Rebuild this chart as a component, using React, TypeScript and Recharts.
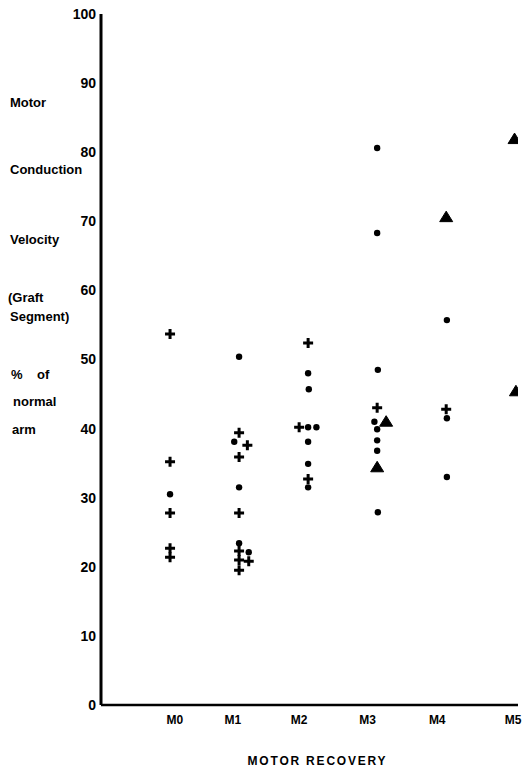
import React from 'react';
import { ScatterChart, Scatter, XAxis, YAxis, Label } from 'recharts';

// x = recovery grade position (1 = M0 ... 6 = M5), small offsets = side-by-side points
const crosses = [
  { x: 1, y: 53.7 }, { x: 1, y: 35.2 }, { x: 1, y: 27.8 }, { x: 1, y: 22.7 }, { x: 1, y: 21.4 },
  { x: 2, y: 39.4 }, { x: 2.12, y: 37.6 }, { x: 2, y: 35.9 }, { x: 2, y: 27.8 },
  { x: 2, y: 22.3 }, { x: 2, y: 21.0 }, { x: 2.14, y: 20.8 }, { x: 2, y: 19.5 },
  { x: 3, y: 52.4 }, { x: 2.87, y: 40.2 }, { x: 3, y: 32.7 },
  { x: 4, y: 43.0 },
  { x: 5, y: 42.8 },
];

const dots = [
  { x: 1, y: 30.5 },
  { x: 2, y: 50.4 }, { x: 1.93, y: 38.1 }, { x: 2, y: 31.5 }, { x: 2, y: 23.4 }, { x: 2.14, y: 22.1 },
  { x: 3, y: 48.0 }, { x: 3.01, y: 45.7 }, { x: 3, y: 40.2 }, { x: 3.12, y: 40.2 },
  { x: 3, y: 38.1 }, { x: 3, y: 34.9 }, { x: 3, y: 31.5 },
  { x: 4, y: 80.6 }, { x: 4, y: 68.3 }, { x: 4.01, y: 48.5 }, { x: 3.96, y: 41.0 },
  { x: 4, y: 39.9 }, { x: 4, y: 38.3 }, { x: 4, y: 36.8 }, { x: 4.01, y: 27.9 },
  { x: 5.01, y: 55.7 }, { x: 5.01, y: 41.5 }, { x: 5.01, y: 33.0 },
];

const triangles = [
  { x: 4.13, y: 41.0 }, { x: 4, y: 34.4 },
  { x: 5, y: 70.6 },
  { x: 5.99, y: 81.9 }, { x: 6.01, y: 45.4 },
];

const gradeTicks = [1.07, 1.91, 2.87, 3.86, 4.87, 5.97];
const gradeLabels = ['M0', 'M1', 'M2', 'M3', 'M4', 'M5'];
const yTicks = [0, 10, 20, 30, 40, 50, 60, 70, 80, 90, 100];

const sideLabels = [
  { text: 'Motor', top: 95, left: 10 },
  { text: 'Conduction', top: 162, left: 10 },
  { text: 'Velocity', top: 232, left: 10 },
  { text: '(Graft', top: 290, left: 8 },
  { text: 'Segment)', top: 309, left: 10 },
  { text: '%\u00a0\u00a0\u00a0 of', top: 367, left: 11 },
  { text: 'normal', top: 394, left: 13 },
  { text: 'arm', top: 422, left: 12 },
];

const FONT = "'Liberation Sans', Arial, sans-serif";

const Cross = (p: any) => (
  <path
    d={`M${p.cx - 5},${p.cy} H${p.cx + 5} M${p.cx},${p.cy - 5} V${p.cy + 5}`}
    stroke="#000"
    strokeWidth={3}
    fill="none"
  />
);

const Dot = (p: any) => <circle cx={p.cx} cy={p.cy} r={3.2} fill="#000" />;

const Tri = (p: any) => (
  <path
    d={`M${p.cx},${p.cy - 6} L${p.cx + 6.5},${p.cy + 4.5} L${p.cx - 6.5},${p.cy + 4.5} Z`}
    fill="#000"
    stroke="#000"
    strokeWidth={1}
    strokeLinejoin="round"
  />
);

export default function App() {
  return (
    <div style={{ position: 'absolute', left: 0, top: 0, width: 525, height: 769, background: '#fff' }}>
      <ScatterChart width={525} height={769} margin={{ top: 14, right: 7, bottom: 0, left: 0 }}>
        <XAxis
          type="number"
          dataKey="x"
          domain={[0, 6.04]}
          ticks={gradeTicks}
          tickFormatter={(v: number) => gradeLabels[gradeTicks.indexOf(v)] ?? ''}
          allowDataOverflow
          height={64}
          axisLine={{ stroke: '#000', strokeWidth: 2.5 }}
          tickLine={false}
          tickMargin={4}
          tick={{ fontSize: 12, fill: '#000', fontFamily: FONT, fontWeight: 700 }}
        >
          <Label
            value="MOTOR RECOVERY"
            position="insideBottom"
            offset={4}
            dx={8}
            style={{ fontSize: 12, fill: '#000', fontFamily: FONT, letterSpacing: 1.8, fontWeight: 700 }}
          />
        </XAxis>
        <YAxis
          type="number"
          dataKey="y"
          domain={[0, 100]}
          ticks={yTicks}
          width={101}
          axisLine={{ stroke: '#000', strokeWidth: 3 }}
          tickLine={false}
          tickMargin={-1}
          tick={{ fontSize: 14, fill: '#000', fontFamily: FONT, fontWeight: 700 }}
        />
        <Scatter data={dots} shape={Dot} isAnimationActive={false} />
        <Scatter data={crosses} shape={Cross} isAnimationActive={false} />
        <Scatter data={triangles} shape={Tri} isAnimationActive={false} />
      </ScatterChart>
      {sideLabels.map((l) => (
        <div
          key={l.text}
          style={{
            position: 'absolute',
            top: l.top,
            left: l.left,
            fontFamily: FONT,
            fontWeight: 700,
            fontSize: 13,
            lineHeight: '16px',
            whiteSpace: 'nowrap',
          }}
        >
          {l.text}
        </div>
      ))}
    </div>
  );
}
